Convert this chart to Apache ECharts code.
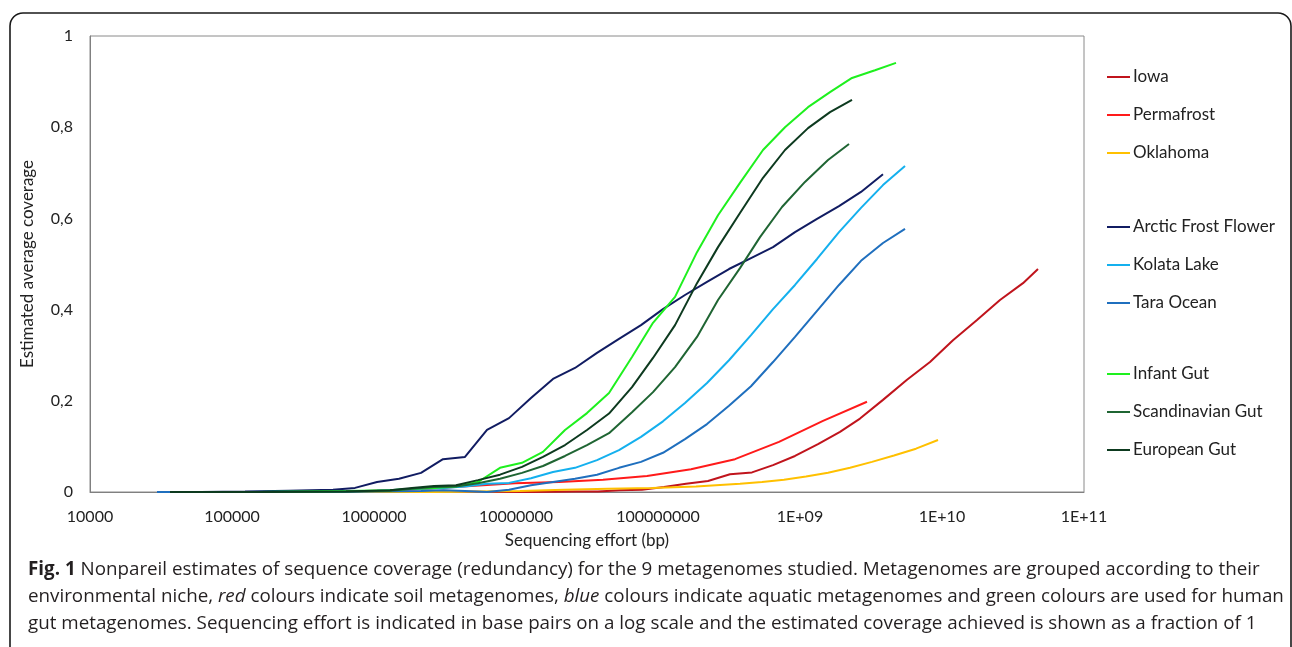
<!DOCTYPE html>
<html>
<head>
<meta charset="utf-8">
<script src="https://cdn.jsdelivr.net/npm/echarts@6/dist/echarts.min.js"></script>
<style>
html,body{margin:0;padding:0;background:#fff;}
#chart{width:1292px;height:647px;}
</style>
</head>
<body>
<div id="chart"></div>
<script>
// ---------- data (sequencing effort in bp, estimated average coverage) ----------
const seriesNames = ['Iowa','Permafrost','Oklahoma','Arctic Frost Flower','Kolata Lake','Tara Ocean','Infant Gut','Scandinavian Gut','European Gut'];

const iowaEffort = [30120,125500,522800,2178000,3111000,4445000,6351000,12960000,26460000,37790000,54000000,77150000,110200000,157500000,225000000,321400000,459100000,645500000,922200000,1339000000,1913000000,2646000000,3841000000,5670000000,8233000000,11950000000,17640000000,25610000000,37190000000,47430000000];
const iowaCoverage = [0,0,0,0.001,0.003,0.001,0,0,0.001,0.001,0.004,0.005,0.011,0.018,0.024,0.039,0.043,0.059,0.079,0.105,0.132,0.161,0.202,0.246,0.285,0.333,0.377,0.421,0.458,0.489];

const permafrostEffort = [32660,136100,567000,1157000,2362000,4821000,9839000,20090000,41000000,83670000,170800000,348600000,711400000,1452000000,2963000000];
const permafrostCoverage = [0,0,0.001,0.002,0.007,0.013,0.019,0.022,0.027,0.035,0.050,0.072,0.110,0.156,0.198];

const oklahomaEffort = [32660,2561000,5228000,10670000,21780000,44450000,90740000,185200000,377900000,540000000,771500000,1102000000,1575000000,2250000000,3214000000,4591000000,6560000000,9373000000];
const oklahomaCoverage = [0,0,0.001,0.002,0.005,0.007,0.009,0.012,0.018,0.022,0.027,0.034,0.042,0.053,0.066,0.080,0.095,0.114];

const arcticEffort = [29630,60490,123500,252000,514400,734800,1050000,1500000,2143000,3061000,4373000,6248000,8927000,12750000,18220000,26030000,37190000,53130000,75900000,108400000,154900000,221400000,316200000,451800000,645500000,922200000,1318000000,1882000000,2689000000,3841000000];
const arcticCoverage = [0,0,0.001,0.003,0.005,0.009,0.022,0.029,0.042,0.072,0.077,0.136,0.162,0.206,0.248,0.272,0.305,0.336,0.366,0.401,0.432,0.461,0.489,0.513,0.537,0.570,0.599,0.627,0.658,0.697];

const kolataEffort = [29630,123500,514400,1050000,2143000,3061000,4373000,6248000,8927000,12750000,18220000,26030000,37190000,53130000,75900000,108400000,154900000,221400000,316200000,451800000,645500000,922200000,1318000000,1882000000,2689000000,3841000000,5489000000];
const kolataCoverage = [0,0,0.001,0.003,0.007,0.009,0.012,0.018,0.020,0.030,0.044,0.053,0.070,0.092,0.121,0.155,0.195,0.239,0.289,0.344,0.401,0.454,0.511,0.570,0.623,0.673,0.715];

const taraEffort = [29630,123500,514400,2143000,3061000,4373000,6248000,8927000,12750000,18220000,26030000,37190000,53130000,75900000,108400000,154900000,221400000,316200000,451800000,645500000,922200000,1318000000,1882000000,2689000000,3841000000,5489000000];
const taraCoverage = [0,0,0,0.002,0.004,0.002,0,0.005,0.015,0.022,0.029,0.038,0.053,0.066,0.086,0.116,0.149,0.189,0.232,0.285,0.340,0.397,0.454,0.507,0.546,0.577];

const infantEffort = [36590,74680,152400,311100,635100,1296000,1852000,2646000,3779000,5400000,7715000,11020000,15490000,22140000,31620000,45180000,65600000,92220000,131800000,188200000,264600000,377900000,548900000,784100000,1139000000,1627000000,2324000000,3374000000,4743000000];
const infantCoverage = [0,0,0,0.001,0.002,0.004,0.007,0.009,0.012,0.022,0.053,0.064,0.088,0.136,0.173,0.217,0.296,0.371,0.428,0.526,0.607,0.678,0.750,0.800,0.844,0.877,0.908,0.925,0.941];

const scandinavianEffort = [36590,152400,635100,1296000,1852000,2646000,3779000,5400000,7715000,11020000,15490000,22140000,31620000,45180000,65600000,92220000,131800000,188200000,264600000,377900000,522800000,746800000,1084000000,1575000000,2214000000];
const scandinavianCoverage = [0,0,0.001,0.003,0.007,0.011,0.012,0.019,0.029,0.042,0.057,0.079,0.103,0.129,0.175,0.219,0.274,0.340,0.421,0.491,0.559,0.625,0.680,0.728,0.763];

const europeanEffort = [36590,152400,635100,1296000,1852000,2646000,3779000,5400000,7715000,11020000,15490000,22140000,31620000,45180000,65600000,92220000,131800000,188200000,264600000,377900000,548900000,784100000,1139000000,1627000000,2324000000];
const europeanCoverage = [0,0,0.001,0.004,0.009,0.013,0.015,0.026,0.038,0.055,0.077,0.103,0.136,0.172,0.230,0.294,0.366,0.458,0.537,0.612,0.689,0.750,0.798,0.833,0.860];

const xTickLabels = ['10000','100000','1000000','10000000','100000000','1E+09','1E+10','1E+11'];
const yTickLabels = ['0','0,2','0,4','0,6','0,8','1'];

const captionLines = [
  '{b|Fig. 1} Nonpareil estimates of sequence coverage (redundancy) for the 9 metagenomes studied. Metagenomes are grouped according to their',
  'environmental niche, {i|red} colours indicate soil metagenomes, {i|blue} colours indicate aquatic metagenomes and green colours are used for human',
  'gut metagenomes. Sequencing effort is indicated in base pairs on a log scale and the estimated coverage achieved is shown as a fraction of 1'
];

// ---------- chart ----------
const efforts = [iowaEffort, permafrostEffort, oklahomaEffort, arcticEffort, kolataEffort, taraEffort, infantEffort, scandinavianEffort, europeanEffort];
const coverages = [iowaCoverage, permafrostCoverage, oklahomaCoverage, arcticCoverage, kolataCoverage, taraCoverage, infantCoverage, scandinavianCoverage, europeanCoverage];
const colors = ['#C0141C','#FF1A1A','#FFC000','#111C62','#14B0EE','#1F6FBE','#1EF01E','#1F6533','#0D3A1F'];

const FONT = 'Lato';
const CAP_SIZE = 18.8;
const series = seriesNames.map((name, i) => ({
  name: name,
  type: 'line',
  data: efforts[i].map((x, k) => [x, coverages[i][k]]),
  showSymbol: false,
  symbol: 'none',
  smooth: false,
  lineStyle: { color: colors[i], width: 2 },
  itemStyle: { color: colors[i] },
  emphasis: { disabled: true },
  z: 2 + i
}));

function legendGroup(names, top) {
  return {
    orient: 'vertical',
    left: 1102,
    top: top,
    data: names,
    icon: 'rect',
    itemWidth: 23,
    itemHeight: 2,
    itemGap: 18,
    selectedMode: false,
    textStyle: { fontFamily: FONT, fontSize: 17, color: '#222', lineHeight: 20, padding: [0, 0, 0, -2] }
  };
}

const chart = echarts.init(document.getElementById('chart'), null, { renderer: 'canvas' });
chart.setOption({
  animation: false,
  backgroundColor: '#fff',
  grid: { left: 90, right: 208, top: 36, bottom: 155, show: true, borderColor: '#8a8a8a', borderWidth: 1, containLabel: false },
  legend: [
    legendGroup(seriesNames.slice(0, 3), 62),
    legendGroup(seriesNames.slice(3, 6), 212),
    legendGroup(seriesNames.slice(6, 9), 359)
  ],
  xAxis: {
    type: 'log', logBase: 10, min: 1e4, max: 1e11,
    name: 'Sequencing effort (bp)', nameLocation: 'middle', nameGap: 40,
    nameTextStyle: { fontFamily: FONT, fontSize: 17, color: '#222' },
    axisLine: { lineStyle: { color: '#808080', width: 1 } },
    axisTick: { show: false },
    minorTick: { show: false },
    splitLine: { show: false },
    axisLabel: {
      margin: 17, fontFamily: FONT, fontSize: 16, color: '#222',
      formatter: function (v) { return xTickLabels[Math.round(Math.log10(v)) - 4]; }
    }
  },
  yAxis: {
    type: 'value', min: 0, max: 1, interval: 0.2,
    name: 'Estimated average coverage', nameLocation: 'middle', nameGap: 54, nameRotate: 90,
    nameTextStyle: { fontFamily: FONT, fontSize: 17, color: '#222' },
    axisLine: { show: true, lineStyle: { color: '#808080', width: 1 } },
    axisTick: { show: false },
    splitLine: { show: false },
    axisLabel: {
      margin: 17, fontFamily: FONT, fontSize: 16, color: '#222',
      formatter: function (v) { return yTickLabels[Math.round(v * 5)]; }
    }
  },
  graphic: [
    { type: 'rect', shape: { x: 10, y: 13, width: 1281, height: 700, r: 13 }, style: { fill: 'none', stroke: '#1a1a1a', lineWidth: 1.6 }, silent: true, z: 0 }
  ].concat(captionLines.map((t, i) => ({
    type: 'text', left: 28, top: 560 + i * 27, silent: true,
    style: {
      text: t, fill: '#231f20', font: CAP_SIZE + 'px "Open Sans"',
      rich: {
        b: { fontWeight: 'bold', fontFamily: 'Open Sans', fontSize: CAP_SIZE, fill: '#231f20' },
        i: { fontStyle: 'italic', fontFamily: 'Open Sans', fontSize: CAP_SIZE, fill: '#231f20' }
      }
    }
  }))),
  series: series
});
</script>
</body>
</html>
